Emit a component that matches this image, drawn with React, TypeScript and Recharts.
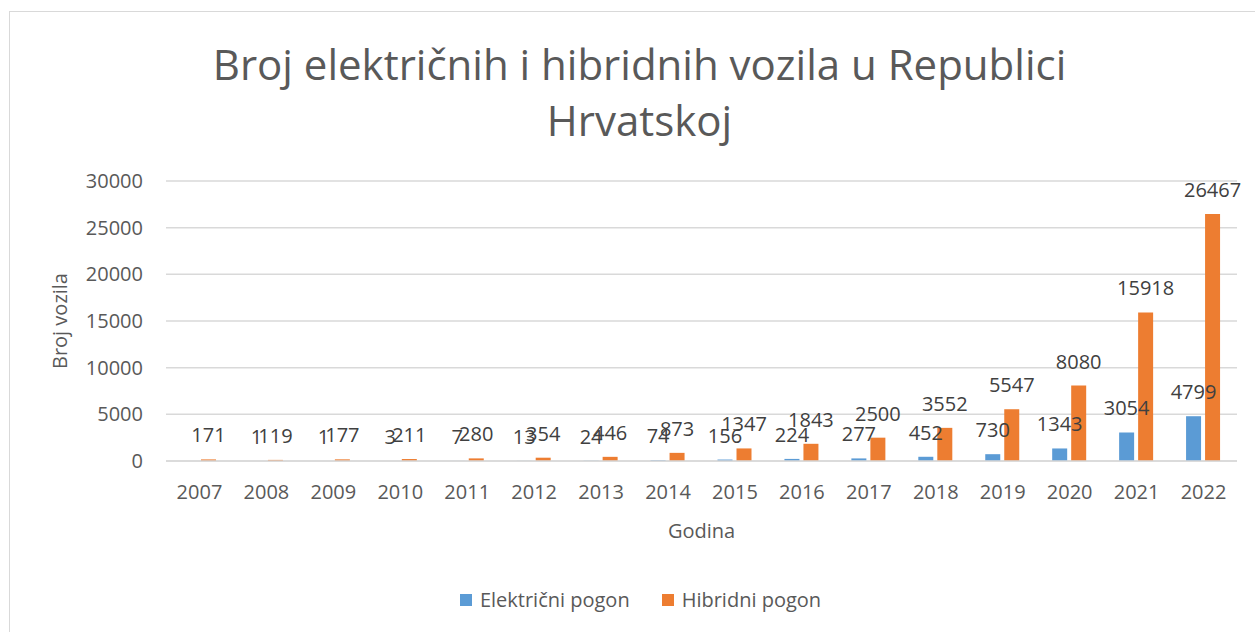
import { BarChart, Bar, XAxis, YAxis, CartesianGrid, Legend, LabelList } from 'recharts';

const years = ['2007', '2008', '2009', '2010', '2011', '2012', '2013', '2014', '2015', '2016', '2017', '2018', '2019', '2020', '2021', '2022'];
const electric: (number | null)[] = [null, 1, 1, 3, 7, 13, 24, 74, 156, 224, 277, 452, 730, 1343, 3054, 4799];
const hybrid = [171, 119, 177, 211, 280, 354, 446, 873, 1347, 1843, 2500, 3552, 5547, 8080, 15918, 26467];
const yTicks = [0, 5000, 10000, 15000, 20000, 25000, 30000];

const data = years.map((year, i) => ({ year, electric: electric[i], hybrid: hybrid[i] }));

const FONT = '"Open Sans", sans-serif';
const BLUE = '#5B9BD5';
const ORANGE = '#ED7D31';

const renderLegend = () => (
  <div style={{ display: 'flex', justifyContent: 'center', gap: 32, fontFamily: FONT, fontSize: 20, color: '#595959', paddingLeft: 26 }}>
    <span style={{ display: 'flex', alignItems: 'center' }}>
      <span style={{ width: 12, height: 12, background: BLUE, marginRight: 8 }} />
      Električni pogon
    </span>
    <span style={{ display: 'flex', alignItems: 'center' }}>
      <span style={{ width: 12, height: 12, background: ORANGE, marginRight: 8 }} />
      Hibridni pogon
    </span>
  </div>
);

export default function App() {
  return (
    <div style={{ position: 'absolute', left: 0, top: 0, width: 1255, height: 632, background: '#fff', overflow: 'hidden' }}>
      <div style={{ position: 'absolute', left: 9, top: 11, width: 1260, height: 640, border: '1px solid #D9D9D9' }} />
      <div
        style={{
          position: 'absolute',
          left: 12,
          top: 36,
          width: 1255,
          textAlign: 'center',
          fontFamily: FONT,
          fontSize: 42,
          lineHeight: '56px',
          color: '#595959',
        }}
      >
        Broj električnih i hibridnih vozila u Republici
        <br />
        Hrvatskoj
      </div>
      <BarChart
        width={1255}
        height={632}
        data={data}
        margin={{ top: 181, right: 18, left: 96, bottom: 62 }}
        barSize={15}
        barGap={4}
        style={{ position: 'absolute', left: 0, top: 0 }}
      >
        <CartesianGrid vertical={false} stroke="#D9D9D9" strokeWidth={1.5} />
        <XAxis
          dataKey="year"
          height={82}
          tickLine={false}
          tickSize={0}
          tickMargin={24}
          axisLine={{ stroke: '#D9D9D9', strokeWidth: 1.5 }}
          tick={{ fill: '#595959', fontSize: 20, fontFamily: FONT }}
          label={{ value: 'Godina', position: 'insideBottom', offset: 5, fill: '#595959', fontSize: 20, fontFamily: FONT }}
        />
        <YAxis
          width={70}
          domain={[0, 30000]}
          ticks={yTicks}
          axisLine={false}
          tickLine={false}
          tickSize={0}
          tickMargin={23}
          tick={{ fill: '#595959', fontSize: 20, fontFamily: FONT }}
          label={{ value: 'Broj vozila', angle: -90, position: 'center', dx: -71, fill: '#595959', fontSize: 20, fontFamily: FONT }}
        />
        <Legend verticalAlign="bottom" content={renderLegend} wrapperStyle={{ position: 'absolute', top: 586, left: 0, width: 1255 }} />
        <Bar dataKey="electric" name="Električni pogon" fill={BLUE} isAnimationActive={false}>
          <LabelList dataKey="electric" position="top" offset={17} fill="#404040" fontSize={20} fontFamily={FONT} />
        </Bar>
        <Bar dataKey="hybrid" name="Hibridni pogon" fill={ORANGE} isAnimationActive={false}>
          <LabelList dataKey="hybrid" position="top" offset={17} fill="#404040" fontSize={20} fontFamily={FONT} />
        </Bar>
      </BarChart>
    </div>
  );
}
